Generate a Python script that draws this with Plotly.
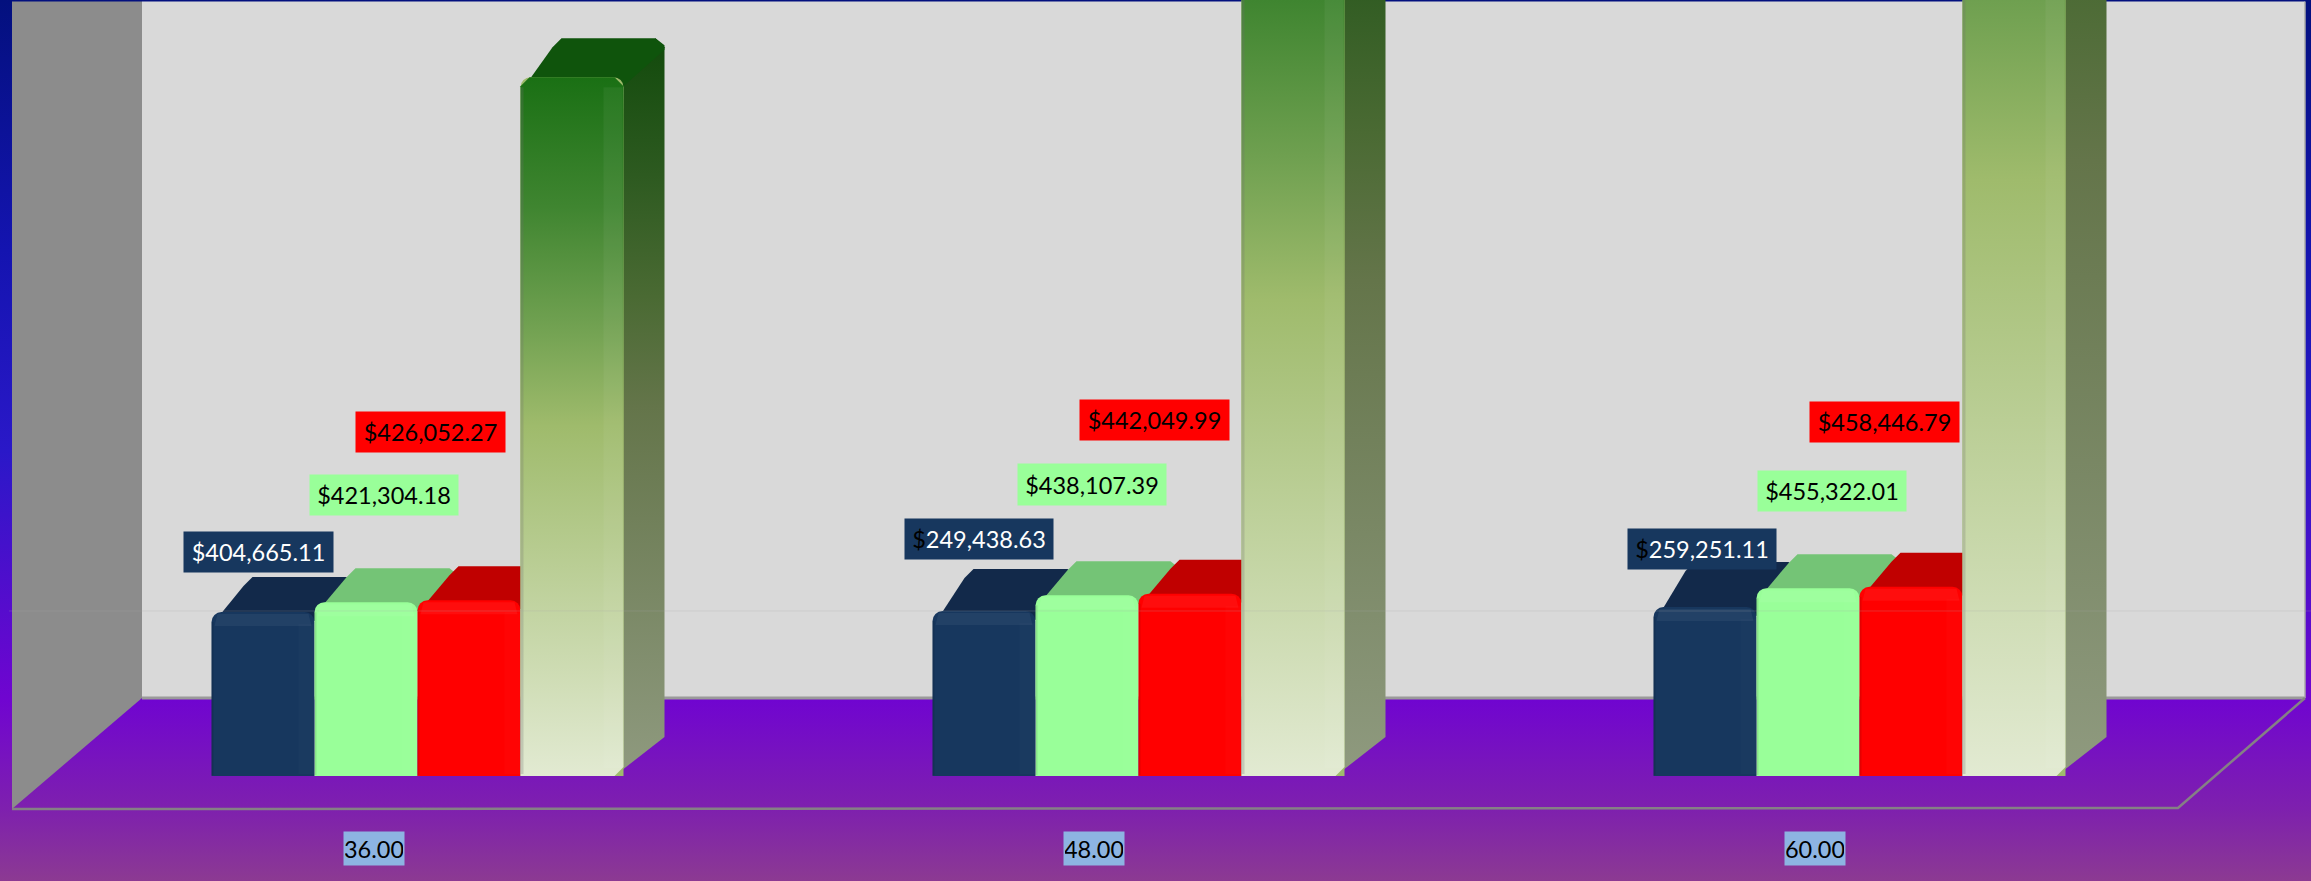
import plotly.graph_objects as go

# ---- data ----
categories = [36.00, 48.00, 60.00]
navy_labels = [404665.11, 249438.63, 259251.11]
green_labels = [421304.18, 438107.39, 455322.01]
red_labels = [426052.27, 442049.99, 458446.79]
navy_heights = [397500, 400000, 409600]
green_heights = [421304.18, 438107.39, 455322.01]
red_heights = [426052.27, 442049.99, 458446.79]
tall_heights = [1694000, 2308000, 2889000]

W, H = 2311, 881
PX_X = 721.0            # pixels per category
X0 = 417.5              # pixel of first category centre
S = 2424.0              # value units per pixel
Y0 = 776                # pixel of value 0
DX = 41 / PX_X
BAR = 103.0 / PX_X
CH = 9                  # corner chamfer, px
navy_depth = [35, 42, 45]
short_depth = 34
tall_depth = 39


def px(x):
    return (x - X0) / PX_X


def py(y):
    return (Y0 - y) * S


fig = go.Figure()


def poly(xs, ys, color=None, grad=None, z=0, start=None, stop=None):
    kw = dict(x=list(xs) + [xs[0]], y=list(ys) + [ys[0]], mode="lines", fill="toself",
              line=dict(width=0), hoverinfo="skip", showlegend=False, zorder=z)
    if grad:
        kw["fillgradient"] = dict(type="vertical", colorscale=grad, start=start, stop=stop)
    else:
        kw["fillcolor"] = color
    fig.add_trace(go.Scatter(**kw))


def line(xs, ys, color, width, z):
    fig.add_trace(go.Scatter(x=xs, y=ys, mode="lines", line=dict(color=color, width=width),
                             hoverinfo="skip", showlegend=False, zorder=z))


# background gradient
xl, xr, yb, yt = px(0), px(W), py(H), py(0)
bg = [[0, "#8c3a92"], [72 / 881, "#7e20ae"], [181 / 881, "#7005d0"], [431 / 881, "#2a18c8"],
      [631 / 881, "#1414b0"], [1, "#03107e"]]
poly([xl, xr, xr, xl], [yb, yb, yt, yt], grad=bg, z=-6, start=yb, stop=yt)

# walls
poly([px(142), px(2305), px(2305), px(142)], [py(698), py(698), py(1.5), py(1.5)], color="#d9d9d9", z=-5)
poly([px(12), px(142), px(142), px(12)], [py(809), py(698), py(1.5), py(1.5)], color="#8c8c8c", z=-5)
line([px(142), px(2305)], [py(698), py(698)], "#9a9a9a", 3, -4)
line([px(2305), px(2305)], [py(1.5), py(698)], "#a8a8a8", 1.5, -4)
line([px(12), px(2178), px(2305)], [py(809), py(808), py(698)], "#858085", 2.5, -4)

tall_scale = [[0, "#e2ead2"], [0.5, "#9fbb6c"], [0.65, "#6fa050"], [0.815, "#3f8530"], [1, "#1a7014"]]
side_scale = [[0, "#8f9a7f"], [0.5, "#64754a"], [0.65, "#4a6a33"], [0.815, "#2d5a20"], [1, "#124a0c"]]


def top_face(x0, x1, v, depth, color, z):
    ch = CH / PX_X
    chy = CH * S
    d = depth * S
    # the lower edge runs behind the front face, so its rounded right corner stays covered
    poly([x0 + ch, x0 + DX - ch, x0 + DX, x1 + DX - ch, x1 + DX, x1 + DX, x1, x1 - ch],
         [v - chy / 4, v + d - chy, v + d, v + d, v + d - chy * 0.8, v + d - chy * 1.3, v - chy, v - chy],
         color=color, z=z)


series = [
    ("navy", navy_heights, "#17375e", "#12294a", 0),
    ("green", green_heights, "#99ff99", "#74c476", 2),
    ("red", red_heights, "#ff0000", "#c00000", 4),
]
for name, vals, front, top, z in series:
    slot = z // 2
    for i, v in enumerate(vals):
        x0 = i - 2 * BAR + slot * BAR
        depth = navy_depth[i] if name == "navy" else short_depth
        top_face(x0, x0 + BAR, v, depth, top, z + 1)
    fig.add_trace(go.Bar(x=[0, 1, 2], y=vals, name=name, offsetgroup=str(slot),
                         marker=dict(color=front, cornerradius=10, line=dict(width=0)),
                         hoverinfo="skip", showlegend=False, zorder=z + 2))
    for i, v in enumerate(vals):
        x0 = i - 2 * BAR + slot * BAR
        x1 = x0 + BAR
        # soft highlight band along the top of every front face
        poly([x0 + 3 / PX_X, x1 - 3 / PX_X, x1 - 6 / PX_X, x0 + 6 / PX_X],
             [v - 14 * S, v - 14 * S, v - 2 * S, v - 2 * S],
             color="rgba(255,255,255,0.05)", z=z + 2)
        poly([x1 - 16 / PX_X, x1, x1, x1 - 16 / PX_X],
             [2 * S, 2 * S, v - 12 * S, v - 12 * S],
             color="rgba(255,255,255,0.015)", z=z + 2)
        poly([x0, x0 + 2 / PX_X, x0 + 2 / PX_X, x0],
             [1 * S, 1 * S, v - 10 * S, v - 10 * S],
             color="rgba(0,0,0,0.10)", z=z + 2)

# tall series: side, top, bar, gradient overlay
for i, v in enumerate(tall_heights):
    x0 = i - 2 * BAR + 3 * BAR
    x1 = x0 + BAR
    ch = CH / PX_X
    chy = CH * S
    dv = tall_depth * S
    poly([x1 - ch, x1 + DX, x1 + DX, x1 + DX - ch, x1],
         [0, dv, v + dv - chy, v + dv, v],
         grad=side_scale, z=7, start=0, stop=v + dv)
    top_face(x0, x1, v, tall_depth, "#0f540c", 8)
fig.add_trace(go.Bar(x=[0, 1, 2], y=tall_heights, name="tall", offsetgroup="3",
                     marker=dict(color="#9fbb6c", cornerradius=10, line=dict(width=0)),
                     hoverinfo="skip", showlegend=False, zorder=9))
for i, v in enumerate(tall_heights):
    x0 = i - 2 * BAR + 3 * BAR
    x1 = x0 + BAR
    ch = CH / PX_X
    chy = CH * S
    poly([x0, x1 - ch, x1, x1, x1 - ch, x0 + ch, x0], [0, 0, chy, v - chy, v, v, v - chy],
         grad=tall_scale, z=10, start=0, stop=v)
    # edge shading
    poly([x1 - 20 / PX_X, x1 - 1 / PX_X, x1 - 1 / PX_X, x1 - 20 / PX_X],
         [8 * S, 8 * S, v - 10 * S, v - 10 * S], color="rgba(255,255,255,0.05)", z=11)
    poly([x0, x0 + 3 / PX_X, x0 + 3 / PX_X, x0], [2 * S, 2 * S, v - 10 * S, v - 10 * S],
         color="rgba(110,110,110,0.25)", z=11)

annotations = []


def label(text, left, right, top, bottom, bg_col, fg):
    annotations.append(dict(
        text=text, xref="paper", yref="paper",
        x=(left + right) / 2 / W, y=1 - (top + bottom) / 2 / H,
        xanchor="center", yanchor="middle", showarrow=False, align="center", valign="middle",
        width=right - left - 2, height=bottom - top - 2, borderpad=1, bgcolor=bg_col,
        font=dict(family="Lato", size=23.5, color=fg)))


money = lambda v: f"${v:,.2f}"
navy_boxes = [(184, 333, 532, 572), (905, 1053, 519, 559), (1628, 1776, 529, 569)]
green_boxes = [(310, 458, 475, 515), (1018, 1166, 464, 505), (1758, 1906, 471, 511)]
red_boxes = [(356, 505, 412, 452), (1080, 1229, 400, 440), (1810, 1959, 402, 442)]
cat_boxes = [(344, 404), (1064, 1124), (1785, 1845)]
dollar_black = [False, True, True]

for i in range(3):
    t = money(navy_labels[i])
    if dollar_black[i]:
        t = '<span style="color:#000000">$</span>' + t[1:]
    label(t, *navy_boxes[i], "#17375e", "#ffffff")
    label(money(green_labels[i]), *green_boxes[i], "#99ff99", "#000000")
    label(money(red_labels[i]), *red_boxes[i], "#ff0000", "#000000")
    label(f"{categories[i]:.2f}", cat_boxes[i][0], cat_boxes[i][1], 832, 865, "#8db4e2", "#000000")

fig.update_layout(
    width=W, height=H, margin=dict(l=0, r=0, t=0, b=0), autosize=False,
    paper_bgcolor="#7005d0", plot_bgcolor="rgba(0,0,0,0)",
    barmode="group", bargap=1 - 4 * BAR, bargroupgap=0,
    xaxis=dict(range=[xl, xr], visible=False, type="linear", fixedrange=True),
    yaxis=dict(range=[yb, yt], visible=False, fixedrange=True),
    annotations=annotations, showlegend=False,
    shapes=[dict(type="line", xref="paper", yref="y", x0=9 / W, x1=1, y0=400000, y1=400000,
                 line=dict(color="rgba(170,170,170,0.25)", width=1), layer="above")],
)

fig.write_html("out.html", config={"displayModeBar": False},
               post_script="document.body.style.margin='0';document.body.style.overflow='hidden';")
